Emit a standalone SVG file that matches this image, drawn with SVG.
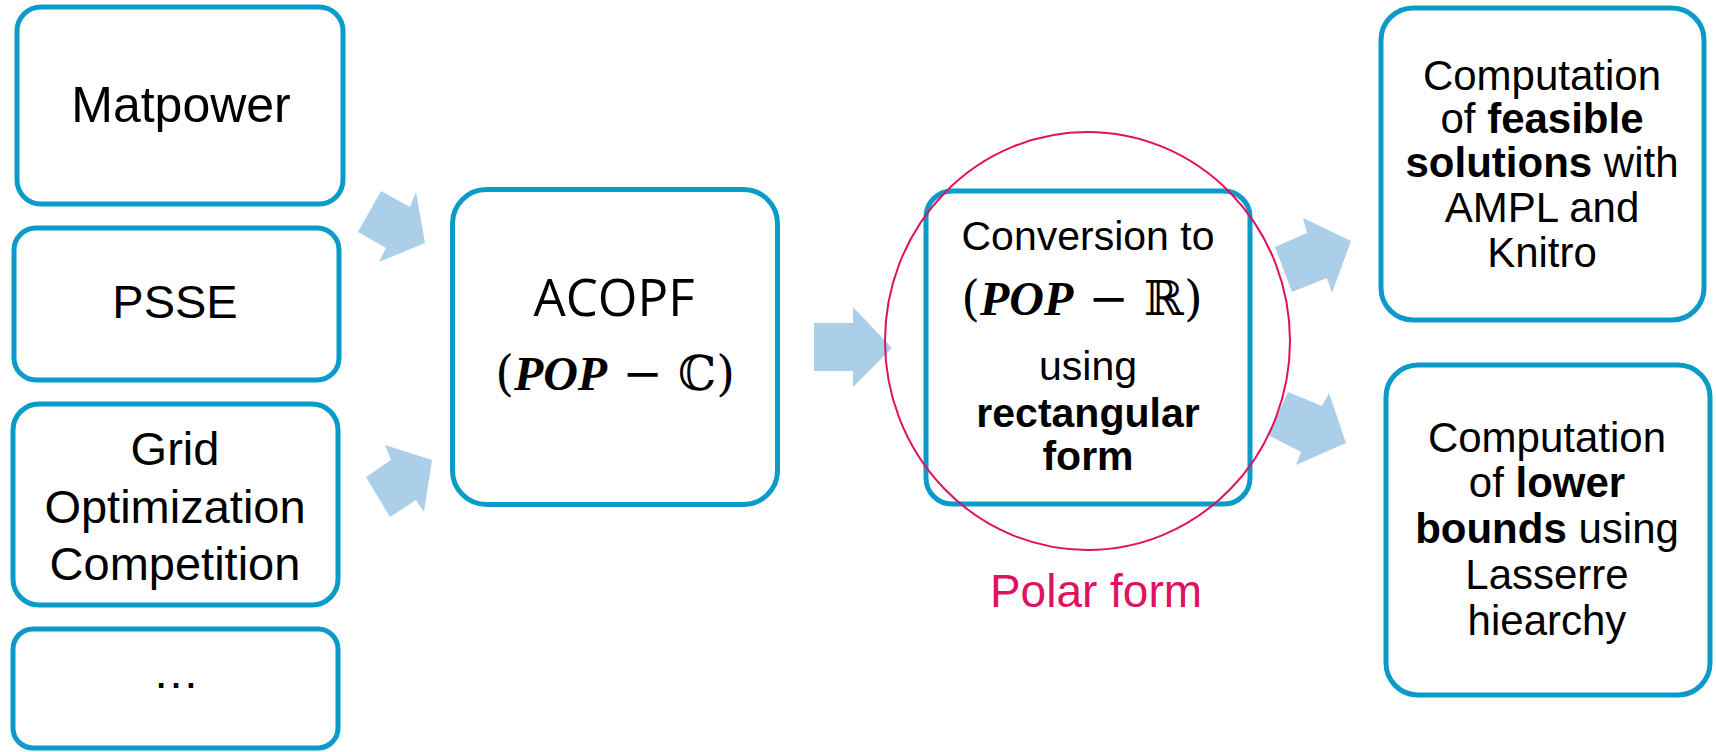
<svg xmlns="http://www.w3.org/2000/svg" width="1716" height="752" viewBox="0 0 1716 752">
<style>
.box{fill:#fff;stroke:#0A9BC8;stroke-width:5}
.arr{fill:#ABCFE8}
.t{font-family:"Liberation Sans",Arial,sans-serif;fill:#000;text-anchor:middle}
.b{font-weight:bold}
.m{font-family:"DejaVu Serif","Liberation Serif",serif;text-anchor:middle;fill:#000}
.bi{font-family:"Liberation Serif",serif;font-weight:bold;font-style:italic}
</style>
<rect width="1716" height="752" fill="#fff"/>
<g id="connectors">
<polygon class="arr" points="381,191 410,207 416,192 425,243 379,262 386,248 358,232"/>
<polygon class="arr" points="385,445 391,460 366,477 390,517 416,500 424,512 432,460"/>
<polygon class="arr" points="814,323 853,323 853,307 892,348 853,387 853,371 814,371"/>
<polygon class="arr" points="1275,247 1307,233 1303,218 1351,241 1332,293 1327,278 1292,292"/>
<polygon class="arr" points="1288,392 1322,406 1329,393 1346,443 1296,465 1301,452 1268,435"/>
</g>
<g id="matpower">
<rect class="box" x="17" y="7" width="326" height="197" rx="24"/>
<text class="t" x="181" y="122" font-size="50">Matpower</text>
</g>
<g id="psse">
<rect class="box" x="14" y="228" width="325" height="152" rx="22"/>
<text class="t" x="175" y="318" font-size="47">PSSE</text>
</g>
<g id="grid">
<rect class="box" x="13" y="404" width="325" height="201" rx="26"/>
<text class="t" font-size="47"><tspan x="175" y="465">Grid</tspan><tspan x="175" y="523">Optimization</tspan><tspan x="175" y="580">Competition</tspan></text>
</g>
<g id="more">
<rect class="box" x="13" y="629" width="325" height="119" rx="20"/>
<text class="t" x="176" y="688" font-size="47">…</text>
</g>
<g id="acopf">
<rect class="box" x="452.5" y="189.5" width="325" height="315" rx="34"/>
<text x="614" y="316" font-size="51" font-family="'Open Sans',sans-serif" text-anchor="middle">ACOPF</text>
<text class="m" x="615" y="390" font-size="48">(<tspan class="bi">POP</tspan> − ℂ)</text>
</g>
<g id="conversion">
<rect class="box" x="926" y="191" width="324" height="313" rx="26"/>
<text class="t" x="1088" y="250" font-size="41">Conversion to</text>
<text class="m" x="1082" y="315" font-size="48">(<tspan class="bi">POP</tspan> − ℝ)</text>
<text class="t" font-size="41"><tspan x="1088" y="380">using</tspan><tspan x="1088" y="427" class="b">rectangular</tspan><tspan x="1088" y="470" class="b">form</tspan></text>
</g>
<g id="polar">
<ellipse cx="1087.5" cy="341" rx="202.5" ry="209" fill="none" stroke="#E0115F" stroke-width="2"/>
<text x="1096" y="607" font-size="46" font-family="'Liberation Sans',Arial,sans-serif" text-anchor="middle" fill="#E0115F">Polar form</text>
</g>
<g id="feasible">
<rect class="box" x="1381" y="8" width="323" height="312" rx="32"/>
<text class="t" font-size="42"><tspan x="1542" y="90">Computation</tspan><tspan x="1542" y="133">of <tspan class="b">feasible</tspan></tspan><tspan x="1542" y="177"><tspan class="b">solutions</tspan> with</tspan><tspan x="1542" y="222">AMPL and</tspan><tspan x="1542" y="267">Knitro</tspan></text>
</g>
<g id="lower">
<rect class="box" x="1386" y="365" width="324" height="330" rx="32"/>
<text class="t" font-size="42"><tspan x="1547" y="452">Computation</tspan><tspan x="1547" y="497">of <tspan class="b">lower</tspan></tspan><tspan x="1547" y="543"><tspan class="b">bounds</tspan> using</tspan><tspan x="1547" y="589">Lasserre</tspan><tspan x="1547" y="635">hiearchy</tspan></text>
</g>
</svg>
